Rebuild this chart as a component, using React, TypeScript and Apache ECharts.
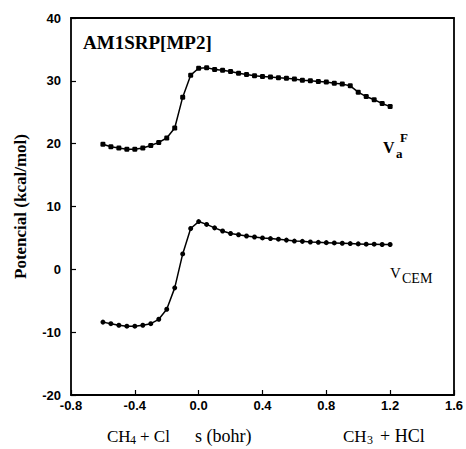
import React, { useEffect, useRef } from "react";
import * as echarts from "echarts";

const sValues: number[] = [
  -0.6, -0.55, -0.5, -0.45, -0.4, -0.35, -0.3, -0.25, -0.2, -0.15, -0.1, -0.05,
  0.0, 0.05, 0.1, 0.15, 0.2, 0.25, 0.3, 0.35, 0.4, 0.45, 0.5, 0.55, 0.6, 0.65,
  0.7, 0.75, 0.8, 0.85, 0.9, 0.95, 1.0, 1.05, 1.1, 1.15, 1.2,
];

const vaF: number[] = [
  19.9, 19.5, 19.3, 19.1, 19.1, 19.3, 19.7, 20.2, 20.9, 22.5, 27.4, 30.9,
  32.0, 32.1, 31.8, 31.7, 31.5, 31.2, 31.0, 30.8, 30.7, 30.6, 30.5, 30.4,
  30.3, 30.1, 30.0, 29.9, 29.8, 29.6, 29.5, 29.2, 28.2, 27.5, 27.0, 26.4, 25.9,
];

const vCEM: number[] = [
  -8.4, -8.65, -8.9, -9.05, -9.05, -8.9, -8.65, -7.95, -6.35, -2.95, 2.45, 6.5,
  7.6, 7.15, 6.6, 6.1, 5.7, 5.5, 5.3, 5.15, 5.0, 4.9, 4.8, 4.65, 4.5, 4.45,
  4.35, 4.3, 4.25, 4.2, 4.15, 4.1, 4.05, 4.0, 4.0, 3.95, 3.95,
];

const xTicks = { min: -0.8, max: 1.6, interval: 0.4 };
const yTicks = { min: -20, max: 40, interval: 10 };

const serif = "Liberation Serif";
const sans = "Liberation Sans";

function txt(text: string, x: number, y: number, size: number, bold = false, family = serif) {
  return {
    type: "text",
    x,
    y,
    style: {
      text,
      fontFamily: family,
      fontSize: size,
      fontWeight: bold ? "bold" : "normal",
      fill: "#000",
      align: "left",
      verticalAlign: "middle",
    },
  };
}

export default function App() {
  const ref = useRef<HTMLDivElement>(null);
  useEffect(() => {
    if (!ref.current) return;
    const chart = echarts.init(ref.current, undefined, { renderer: "svg" });
    const axisCommon = {
      type: "value",
      splitLine: { show: false },
    };
    chart.setOption({
      animation: false,
      backgroundColor: "#fff",
      grid: { left: 71, right: 10, top: 18, bottom: 54 },
      xAxis: [
        {
          ...axisCommon,
          min: xTicks.min,
          max: xTicks.max,
          interval: xTicks.interval,
          axisLine: { show: true, onZero: false, lineStyle: { color: "#000", width: 1.8 } },
          axisTick: { show: true, inside: true, length: 5, lineStyle: { color: "#000", width: 1.2 } },
          axisLabel: {
            color: "#000",
            fontFamily: sans,
            fontWeight: "bold",
            fontSize: 13,
            margin: 4,
            formatter: (v: number) => v.toFixed(1),
          },
        },
        {
          ...axisCommon,
          position: "top",
          min: xTicks.min,
          max: xTicks.max,
          interval: xTicks.interval,
          axisLine: { show: true, onZero: false, lineStyle: { color: "#000", width: 1.8 } },
          axisTick: { show: false },
          axisLabel: { show: false },
        },
      ],
      yAxis: [
        {
          ...axisCommon,
          min: yTicks.min,
          max: yTicks.max,
          interval: yTicks.interval,
          axisLine: { show: true, onZero: false, lineStyle: { color: "#000", width: 1.8 } },
          axisTick: { show: true, inside: true, length: 5, lineStyle: { color: "#000", width: 1.2 } },
          axisLabel: {
            color: "#000",
            fontFamily: sans,
            fontWeight: "bold",
            fontSize: 13,
            margin: 10,
          },
          name: "Potencial (kcal/mol)",
          nameLocation: "middle",
          nameGap: 42,
          nameTextStyle: { color: "#000", fontFamily: serif, fontWeight: "bold", fontSize: 17 },
        },
        {
          ...axisCommon,
          position: "right",
          min: yTicks.min,
          max: yTicks.max,
          interval: yTicks.interval,
          axisLine: { show: true, onZero: false, lineStyle: { color: "#000", width: 1.8 } },
          axisTick: { show: false },
          axisLabel: { show: false },
        },
      ],
      series: [
        {
          type: "line",
          name: "VaF",
          data: sValues.map((s, i) => [s, vaF[i]]),
          symbol: "roundRect",
          symbolSize: 5,
          showSymbol: true,
          itemStyle: { color: "#000" },
          lineStyle: { color: "#000", width: 1.5 },
        },
        {
          type: "line",
          name: "VCEM",
          data: sValues.map((s, i) => [s, vCEM[i]]),
          symbol: "circle",
          symbolSize: 5,
          showSymbol: true,
          itemStyle: { color: "#000" },
          lineStyle: { color: "#000", width: 1.5 },
        },
      ],
      graphic: [
        txt("AM1SRP[MP2]", 83, 42, 19, true),
        txt("V", 383, 147, 16, true),
        txt("a", 396, 153, 13, true),
        txt("F", 400, 137, 13, true),
        txt("V", 390, 273, 15),
        txt("CEM", 402, 278, 14),
        txt("CH", 107, 436, 17),
        txt("4", 130, 440, 12),
        txt("+ Cl", 140, 436, 17),
        txt("s (bohr)", 195, 436, 18),
        txt("CH", 343, 436, 17),
        txt("3", 367, 440, 12),
        txt("+ HCl", 380, 436, 18),
      ],
    });
    return () => chart.dispose();
  }, []);
  return <div ref={ref} style={{ width: 466, height: 449, position: "absolute", left: 0, top: 0 }} />;
}
